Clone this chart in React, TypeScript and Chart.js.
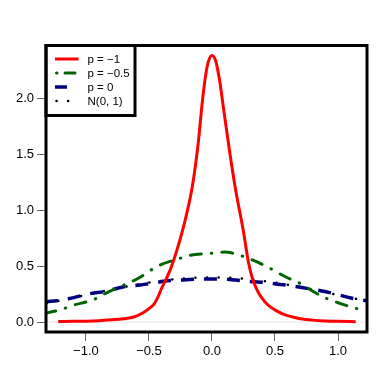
import React, { useEffect, useRef } from "react";
import { Chart, registerables } from "chart.js";

Chart.register(...registerables);

// p = -1 (red solid)
const redX = [-1.22, -1.1, -1.0, -0.9, -0.8, -0.7, -0.62, -0.55, -0.5, -0.46, -0.43, -0.4, -0.37, -0.33, -0.29, -0.233, -0.156, -0.109, -0.08, -0.056, -0.03, 0, 0.03, 0.06, 0.09, 0.13, 0.183, 0.248, 0.29, 0.325, 0.37, 0.42, 0.46, 0.52, 0.565, 0.64, 0.7, 0.8, 0.9, 1.0, 1.14];
const redY = [0.004, 0.006, 0.008, 0.012, 0.02, 0.03, 0.045, 0.08, 0.12, 0.16, 0.22, 0.3, 0.37, 0.47, 0.6, 0.82, 1.21, 1.6, 1.93, 2.16, 2.32, 2.38, 2.33, 2.16, 1.92, 1.6, 1.21, 0.82, 0.53, 0.375, 0.26, 0.18, 0.137, 0.095, 0.07, 0.045, 0.03, 0.017, 0.01, 0.006, 0.003];

// p = -0.5 (green dash-dot)
const greenX = [-1.4, -1.325, -1.21, -1.1, -0.94, -0.865, -0.7, -0.57, -0.49, -0.41, -0.25, -0.175, -0.016, 0.103, 0.143, 0.25, 0.33, 0.46, 0.59, 0.7, 0.8, 0.91, 1.02, 1.16, 1.18];
const greenY = [0.05, 0.077, 0.107, 0.15, 0.2, 0.245, 0.33, 0.4, 0.46, 0.51, 0.57, 0.595, 0.613, 0.625, 0.62, 0.585, 0.55, 0.48, 0.4, 0.345, 0.275, 0.21, 0.165, 0.116, 0.11];

// p = 0 (navy dashed)
const blueX = [-1.4, -1.325, -1.23, -1.13, -0.955, -0.86, -0.7, -0.57, -0.49, -0.33, -0.23, -0.095, 0.037, 0.14, 0.22, 0.33, 0.41, 0.51, 0.59, 0.7, 0.83, 0.96, 1.12, 1.3];
const blueY = [0.165, 0.18, 0.19, 0.21, 0.256, 0.27, 0.315, 0.33, 0.345, 0.37, 0.375, 0.384, 0.385, 0.38, 0.37, 0.36, 0.354, 0.34, 0.33, 0.31, 0.286, 0.256, 0.21, 0.18];

// N(0, 1) (black dotted)
const normX = [-1.4, -1.3, -1.2, -1.0, -0.8, -0.6, -0.4, -0.2, 0, 0.2, 0.4, 0.6, 0.8, 1.0, 1.2, 1.3];
const normY = [0.15, 0.171, 0.194, 0.242, 0.29, 0.333, 0.368, 0.391, 0.399, 0.391, 0.368, 0.333, 0.29, 0.242, 0.194, 0.171];

const xTicks = [-1.0, -0.5, 0.0, 0.5, 1.0];
const yTicks = [0.0, 0.5, 1.0, 1.5, 2.0];

const legendLabels = ["p = \u22121", "p = \u22120.5", "p = 0", "N(0, 1)"];
const seriesColors = ["#ff0000", "#006400", "#000080", "#000000"];

const pts = (xs: number[], ys: number[]) => xs.map((x, i) => ({ x, y: ys[i] }));
const fmt = (v: number) => v.toFixed(1).replace("-", "\u2212");

const FONT = "'Liberation Sans', Arial, Helvetica, sans-serif";

const frameAndLegend = {
  id: "frameAndLegend",
  beforeDatasetsDraw(chart: any) {
    const { ctx, chartArea } = chart;
    const y0 = chart.scales.y.getPixelForValue(0);
    ctx.save();
    ctx.strokeStyle = "#e6e6e6";
    ctx.lineWidth = 1;
    ctx.beginPath();
    ctx.moveTo(chartArea.left, y0);
    ctx.lineTo(chartArea.right, y0);
    ctx.stroke();
    ctx.restore();
  },
  afterDatasetsDraw(chart: any) {
    const { ctx, chartArea } = chart;
    ctx.save();
    // legend box
    const lx = chartArea.left, ly = chartArea.top;
    const lw = 89, lh = 70;
    ctx.fillStyle = "#ffffff";
    ctx.fillRect(lx, ly, lw, lh);
    ctx.lineWidth = 3;
    ctx.strokeStyle = "#000";
    ctx.setLineDash([]);
    ctx.strokeRect(lx, ly, lw, lh);
    const rows = [59, 73, 87, 101];
    const dashes: any[] = [[], [0.5, 8, 10, 100], [12, 100], [0.1, 11.5]];
    const widths = [3, 3, 3.5, 2.5];
    const caps = ["butt", "round", "butt", "round"];
    rows.forEach((ry, i) => {
      ctx.beginPath();
      ctx.strokeStyle = seriesColors[i];
      ctx.lineWidth = widths[i];
      ctx.lineCap = caps[i];
      ctx.setLineDash(dashes[i]);
      const sx = i === 1 || i === 3 ? 56.5 : 55;
      ctx.moveTo(sx, ry);
      ctx.lineTo(78.5, ry);
      ctx.stroke();
      ctx.setLineDash([]);
      ctx.fillStyle = "#000";
      ctx.font = `11.5px ${FONT}`;
      ctx.textBaseline = "middle";
      ctx.textAlign = "left";
      ctx.fillText(legendLabels[i], 87.5, ry + 0.5);
    });
    // plot frame
    ctx.lineCap = "butt";
    ctx.setLineDash([]);
    ctx.lineWidth = 3;
    ctx.strokeStyle = "#000";
    ctx.strokeRect(chartArea.left, chartArea.top, chartArea.right - chartArea.left, chartArea.bottom - chartArea.top);
    ctx.restore();
  },
};

export default function App() {
  const ref = useRef<HTMLCanvasElement>(null);
  useEffect(() => {
    document.body.style.margin = "0";
    const canvas = ref.current!;
    const chart = new Chart(canvas, {
      type: "line",
      data: {
        datasets: [
          {
            data: pts(redX, redY),
            borderColor: seriesColors[0],
            borderWidth: 3,
            pointRadius: 0,
            cubicInterpolationMode: "monotone",
          },
          {
            data: pts(greenX, greenY),
            borderColor: seriesColors[1],
            borderWidth: 3,
            borderDash: [11, 10, 0.5, 10],
            borderCapStyle: "round",
            pointRadius: 0,
            cubicInterpolationMode: "monotone",
          },
          {
            data: pts(blueX, blueY),
            borderColor: seriesColors[2],
            borderWidth: 3.5,
            borderDash: [13, 10],
            pointRadius: 0,
            cubicInterpolationMode: "monotone",
          },
          {
            data: pts(normX, normY),
            borderColor: seriesColors[3],
            borderWidth: 2.5,
            borderDash: [0.1, 11.5],
            borderCapStyle: "round",
            pointRadius: 0,
            cubicInterpolationMode: "monotone",
          },
        ] as any,
      },
      options: {
        animation: false,
        responsive: false,
        devicePixelRatio: 1,
        layout: { padding: { left: 0, top: 45.5, right: 23, bottom: 0 } },
        plugins: { legend: { display: false }, tooltip: { enabled: false } },
        scales: {
          x: {
            type: "linear",
            min: -1.317,
            max: 1.23,
            afterFit: (s: any) => { s.height = 58; },
            afterBuildTicks: (s: any) => { s.ticks = xTicks.map((v) => ({ value: v })); },
            grid: { drawOnChartArea: false, tickLength: 9, color: "#666" },
            border: { display: false },
            ticks: {
              callback: (v: any) => fmt(Number(v)),
              font: { family: FONT, size: 13 },
              color: "#000",
              padding: 3,
              maxRotation: 0,
            },
          },
          y: {
            type: "linear",
            min: -0.089,
            max: 2.469,
            afterFit: (s: any) => { s.width = 46; },
            afterBuildTicks: (s: any) => { s.ticks = yTicks.map((v) => ({ value: v })); },
            grid: { drawOnChartArea: false, tickLength: 9, color: "#666" },
            border: { display: false },
            ticks: {
              callback: (v: any) => fmt(Number(v)),
              font: { family: FONT, size: 13 },
              color: "#000",
              padding: 3,
            },
          },
        },
      },
      plugins: [frameAndLegend],
    });
    return () => chart.destroy();
  }, []);
  return (
    <div style={{ width: 390, height: 390, background: "#fff" }}>
      <canvas ref={ref} width={390} height={390} style={{ width: 390, height: 390 }} />
    </div>
  );
}
